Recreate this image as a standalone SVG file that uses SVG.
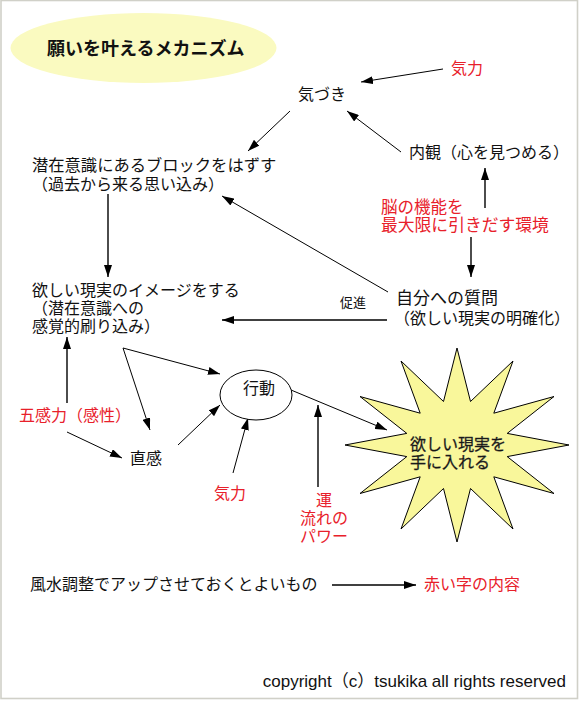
<svg xmlns="http://www.w3.org/2000/svg" width="580" height="701" viewBox="0 0 580 701">
<defs>
<marker id="arr" viewBox="0 0 12 8" refX="12" refY="4" markerWidth="12" markerHeight="8" markerUnits="userSpaceOnUse" orient="auto">
<path d="M0,0 L12,4 L0,8 z" fill="#000"/>
</marker>
<style>
text{font-family:"Noto Sans CJK JP","Liberation Sans",sans-serif;font-size:16px;fill:#111}
.red{fill:#e8202a}
.c{stroke:#000;stroke-width:1;fill:none;marker-end:url(#arr)}
.b{stroke-width:1.4}
</style>
</defs>
<rect x="0" y="0" width="580" height="701" fill="#fff"/>
<rect x="1" y="0.5" width="576.5" height="698" fill="none" stroke="#d0d0c8" stroke-width="1.6"/>

<g id="title">
<ellipse cx="143.5" cy="48" rx="133" ry="35" fill="#fafac0"/>
<text x="47" y="55" style="font-size:18px;font-weight:bold">願いを叶えるメカニズム</text>
</g>

<g id="connectors">
<line class="c" x1="443" y1="69" x2="361" y2="82"/>
<line class="c" x1="401" y1="152" x2="347" y2="111"/>
<line class="c b" x1="485" y1="208" x2="485" y2="168"/>
<line class="c b" x1="471" y1="237" x2="471" y2="277"/>
<line class="c" x1="290" y1="111" x2="248" y2="151"/>
<line class="c" x1="388" y1="292" x2="222" y2="196"/>
<line class="c b" x1="387" y1="320" x2="222" y2="320"/>
<line class="c b" x1="108" y1="194" x2="108" y2="277"/>
<line class="c b" x1="67" y1="403" x2="67" y2="337"/>
<line class="c" x1="67" y1="432" x2="122" y2="458"/>
<line class="c" x1="123" y1="348" x2="220" y2="374"/>
<line class="c" x1="123" y1="348" x2="150" y2="430"/>
<line class="c" x1="178" y1="445" x2="220" y2="405"/>
<line class="c" x1="233" y1="473" x2="248" y2="418"/>
<line class="c" x1="291" y1="390" x2="387" y2="430"/>
<line class="c b" x1="318" y1="487" x2="318" y2="405"/>
<line class="c b" x1="332" y1="585" x2="416" y2="585"/>
</g>

<g id="kiryoku-top"><text class="red" x="451" y="74">気力</text></g>
<g id="kizuki"><text x="298" y="100">気づき</text></g>
<g id="naikan"><text x="409" y="157.5">内観（心を見つめる）</text></g>
<g id="nou"><text class="red"><tspan x="381" y="213" style="font-size:16.5px">脳の機能を</tspan><tspan x="381" y="231" style="font-size:16.8px">最大限に引きだす環境</tspan></text></g>
<g id="block"><text><tspan x="32" y="171" style="font-size:16.3px">潜在意識にあるブロックをはずす</tspan><tspan x="32" y="189.5">（過去から来る思い込み）</tspan></text></g>
<g id="shitsumon"><text><tspan x="396" y="304" style="font-size:17px">自分への質問</tspan><tspan x="394" y="323.5">（欲しい現実の明確化）</tspan></text></g>
<g id="sokushin"><text x="340" y="307" style="font-size:13px">促進</text></g>
<g id="image"><text><tspan x="32" y="296">欲しい現実のイメージをする</tspan><tspan x="32" y="314">（潜在意識への</tspan><tspan x="32" y="332">感覚的刷り込み）</tspan></text></g>
<g id="gokan"><text class="red" x="19" y="421">五感力（感性）</text></g>
<g id="chokkan"><text x="130" y="464">直感</text></g>
<g id="koudou"><ellipse cx="256" cy="395" rx="36" ry="25" fill="#fff" stroke="#000" stroke-width="1"/><text x="243" y="394">行動</text></g>
<g id="kiryoku-bottom"><text class="red" x="214" y="499">気力</text></g>
<g id="un"><text class="red" text-anchor="middle"><tspan x="324" y="506">運</tspan><tspan x="324" y="524">流れの</tspan><tspan x="324" y="542">パワー</tspan></text></g>
<g id="goal">
<polygon points="569,445 507.2,433.4 554,396.5 493.8,413.2 513,361 470.5,401.5 457,348 443.5,401.5 401,361 420.2,413.2 360,396.5 406.8,433.4 345,445 406.8,456.6 360,493.5 420.2,476.8 401,529 443.5,488.5 457,542 470.5,488.5 513,529 493.8,476.8 554,493.5 507.2,456.6" fill="#f9f79b" stroke="#000" stroke-width="1"/>
<text style="stroke:#333;stroke-width:0.3"><tspan x="410" y="450">欲しい現実を</tspan><tspan x="410" y="467.5">手に入れる</tspan></text>
</g>
<g id="legend"><text x="30" y="590">風水調整でアップさせておくとよいもの</text><text class="red" x="424" y="590">赤い字の内容</text></g>
<g id="copyright"><text x="566" y="687" text-anchor="end" style="font-family:'Liberation Sans','Noto Sans CJK JP',sans-serif;font-size:17px">copyright（c）tsukika all rights reserved</text></g>
</svg>
